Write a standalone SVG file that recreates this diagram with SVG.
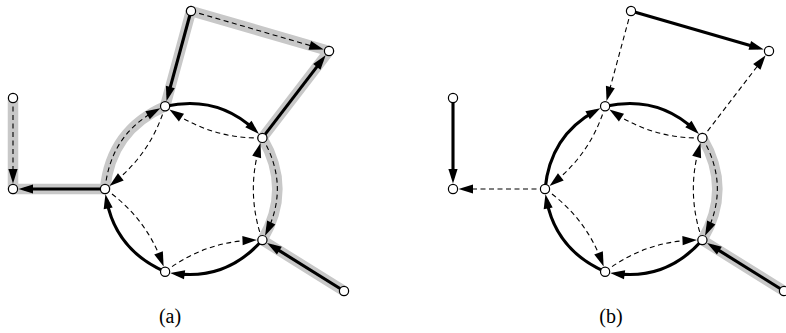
<svg xmlns="http://www.w3.org/2000/svg" width="786" height="333" viewBox="0 0 786 333">
<style>
.gray{stroke:#c8c8c8;stroke-width:10.5;fill:none;stroke-linecap:round;stroke-linejoin:round}
.thick{stroke:#000;stroke-width:3.1;fill:none;marker-end:url(#ah)}
.dash{stroke:#000;stroke-width:1.1;fill:none;stroke-dasharray:5 3.5;marker-end:url(#ah)}
.node{fill:#fff;stroke:#000;stroke-width:1.2}
.lbl{font-family:"Liberation Serif",serif;font-size:20px;fill:#000;text-anchor:middle}
</style>
<defs>
<marker id="ah" markerUnits="userSpaceOnUse" viewBox="-9 -6 16 12" refX="0" refY="0" markerWidth="16" markerHeight="12" orient="auto" overflow="visible">
<path d="M6,0 L-8.5,-4.6 L-8.5,4.6 Z" fill="#000" stroke="none"/>
</marker>
</defs>
<rect width="786" height="333" fill="#fff"/>

<g id="highlights">
<path class="gray" d="M13,98 L13,189"/>
<path class="gray" d="M13,189 L105,189"/>
<path class="gray" d="M165.1,106.3 Q223.03,93.57 262.4,137.9" transform="rotate(-72 192 189)"/>
<path class="gray" d="M191,11 L165.1,106.3"/>
<path class="gray" d="M191,11 L329,51"/>
<path class="gray" d="M262.4,137.9 L329,51"/>
<path class="gray" d="M165.1,106.3 Q223.03,93.57 262.4,137.9" transform="rotate(72 192 189)"/>
<path class="gray" d="M344,291 L262.4,240.1"/>
<g transform="translate(440,0)">
<path class="gray" d="M165.1,106.3 Q223.03,93.57 262.4,137.9" transform="rotate(72 192 189)"/>
<path class="gray" d="M344,291 L262.4,240.1"/>
</g>
</g>

<g id="connectors">
<g id="edges-a">
<path class="thick" d="M191,11 L168.12,95.2"/>
<path class="dash" d="M191,11 L317.96,47.8"/>
<path class="thick" d="M262.4,137.9 L322,60.13"/>
<path class="thick" d="M105,189 L24.5,189"/>
<path class="dash" d="M13,98 L13,177.5"/>
<path class="thick" d="M344,291 L272.16,246.19"/>
<path class="thick" d="M165.1,106.3 Q217.41,94.8 254.59,129.83"/>
<path class="dash" d="M165.1,106.3 Q217.41,94.8 254.59,129.83" transform="rotate(72 192 189)"/>
<path class="thick" d="M165.1,106.3 Q217.41,94.8 254.59,129.83" transform="rotate(144 192 189)"/>
<path class="thick" d="M165.1,106.3 Q217.41,94.8 254.59,129.83" transform="rotate(216 192 189)"/>
<path class="dash" d="M165.1,106.3 Q217.41,94.8 254.59,129.83" transform="rotate(288 192 189)"/>
<path class="dash" d="M262.4,137.9 Q213.93,139.08 174.36,112.9"/>
<path class="dash" d="M262.4,137.9 Q213.93,139.08 174.36,112.9" transform="rotate(72 192 189)"/>
<path class="dash" d="M262.4,137.9 Q213.93,139.08 174.36,112.9" transform="rotate(144 192 189)"/>
<path class="dash" d="M262.4,137.9 Q213.93,139.08 174.36,112.9" transform="rotate(216 192 189)"/>
<path class="dash" d="M262.4,137.9 Q213.93,139.08 174.36,112.9" transform="rotate(288 192 189)"/>
</g>
<g id="edges-b" transform="translate(440,0)">
<path class="dash" d="M191,11 L168.12,95.2"/>
<path class="thick" d="M191,11 L317.96,47.8"/>
<path class="dash" d="M262.4,137.9 L322,60.13"/>
<path class="dash" d="M105,189 L24.5,189"/>
<path class="thick" d="M13,98 L13,177.5"/>
<path class="thick" d="M344,291 L272.16,246.19"/>
<path class="thick" d="M165.1,106.3 Q217.41,94.8 254.59,129.83"/>
<path class="dash" d="M165.1,106.3 Q217.41,94.8 254.59,129.83" transform="rotate(72 192 189)"/>
<path class="thick" d="M165.1,106.3 Q217.41,94.8 254.59,129.83" transform="rotate(144 192 189)"/>
<path class="thick" d="M165.1,106.3 Q217.41,94.8 254.59,129.83" transform="rotate(216 192 189)"/>
<path class="thick" d="M165.1,106.3 Q217.41,94.8 254.59,129.83" transform="rotate(288 192 189)"/>
<path class="dash" d="M262.4,137.9 Q213.93,139.08 174.36,112.9"/>
<path class="dash" d="M262.4,137.9 Q213.93,139.08 174.36,112.9" transform="rotate(72 192 189)"/>
<path class="dash" d="M262.4,137.9 Q213.93,139.08 174.36,112.9" transform="rotate(144 192 189)"/>
<path class="dash" d="M262.4,137.9 Q213.93,139.08 174.36,112.9" transform="rotate(216 192 189)"/>
<path class="dash" d="M262.4,137.9 Q213.93,139.08 174.36,112.9" transform="rotate(288 192 189)"/>
</g>
</g>

<g id="nodes-a">
<g id="a-A"><circle class="node" cx="191" cy="11" r="4.6"/></g>
<g id="a-B"><circle class="node" cx="329" cy="51" r="4.6"/></g>
<g id="a-C"><circle class="node" cx="165.1" cy="106.3" r="4.6"/></g>
<g id="a-D"><circle class="node" cx="262.4" cy="137.9" r="4.6"/></g>
<g id="a-E"><circle class="node" cx="105" cy="189" r="4.6"/></g>
<g id="a-F"><circle class="node" cx="262.4" cy="240.1" r="4.6"/></g>
<g id="a-G"><circle class="node" cx="165.1" cy="271.7" r="4.6"/></g>
<g id="a-H"><circle class="node" cx="13" cy="98" r="4.6"/></g>
<g id="a-I"><circle class="node" cx="13" cy="189" r="4.6"/></g>
<g id="a-J"><circle class="node" cx="344" cy="291" r="4.6"/></g>
</g>
<g id="nodes-b" transform="translate(440,0)">
<g id="b-A"><circle class="node" cx="191" cy="11" r="4.6"/></g>
<g id="b-B"><circle class="node" cx="329" cy="51" r="4.6"/></g>
<g id="b-C"><circle class="node" cx="165.1" cy="106.3" r="4.6"/></g>
<g id="b-D"><circle class="node" cx="262.4" cy="137.9" r="4.6"/></g>
<g id="b-E"><circle class="node" cx="105" cy="189" r="4.6"/></g>
<g id="b-F"><circle class="node" cx="262.4" cy="240.1" r="4.6"/></g>
<g id="b-G"><circle class="node" cx="165.1" cy="271.7" r="4.6"/></g>
<g id="b-H"><circle class="node" cx="13" cy="98" r="4.6"/></g>
<g id="b-I"><circle class="node" cx="13" cy="189" r="4.6"/></g>
<g id="b-J"><circle class="node" cx="344" cy="291" r="4.6"/></g>
</g>

<text class="lbl" x="170" y="323">(a)</text>
<text class="lbl" x="611" y="323">(b)</text>
</svg>
